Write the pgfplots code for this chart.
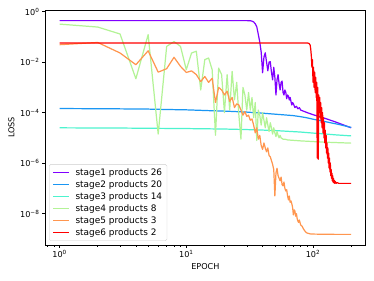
\documentclass[border=0pt]{standalone}
\usepackage{fontspec}
\setmainfont{DejaVu Sans}
\usepackage{pgfplots}
\pgfplotsset{compat=1.18}
\definecolor{cA}{RGB}{128,0,255}
\definecolor{cB}{RGB}{26,150,243}
\definecolor{cC}{RGB}{77,243,206}
\definecolor{cD}{RGB}{179,243,150}
\definecolor{cE}{RGB}{255,150,79}
\definecolor{cF}{RGB}{255,0,0}
\pgfplotsset{mpllegend/.style={legend image code/.code={\draw[##1,line width=1.5pt] (0pt,0pt) -- (20pt,0pt);}}}
\begin{document}
\begin{tikzpicture}
\begin{axis}[
  at={(0,0)}, anchor=south west,
  scale only axis, width=395pt, height=289.5pt,
  xmode=log, ymode=log,
  xmin=0.767, xmax=260.6, ymin=5.7e-10, ymax=1.16,
  axis line style={line width=0.8pt, black},
  tick align=outside, tick pos=left,
  major tick length=3.5pt, minor tick length=2pt,
  every tick/.style={black, line width=0.8pt},
  minor tick style={line width=0.6pt},
  xtick={1,10,100},
  xticklabels={10\textsuperscript{0},10\textsuperscript{1},10\textsuperscript{2}},
  minor xtick={0.8,0.9,2,3,4,5,6,7,8,9,20,30,40,50,60,70,80,90,200},
  ytick={1e-8,1e-6,1e-4,1e-2,1},
  yticklabels={10\textsuperscript{−8},10\textsuperscript{−6},10\textsuperscript{−4},10\textsuperscript{−2},10\textsuperscript{0}},
  minor ytick={},
  ticklabel style={font=\fontsize{10}{12}\selectfont},
  xlabel={EPOCH}, ylabel={LOSS},
  label style={font=\fontsize{10}{12}\selectfont},
  legend style={at={(0,0)}, anchor=south west, xshift=5pt, yshift=5pt,
    draw=black!20, rounded corners=2pt, fill=white, fill opacity=0.8, text opacity=1,
    font=\fontsize{11}{12}\selectfont, row sep=1pt, inner xsep=4pt, inner ysep=3pt,
    /tikz/every odd column/.append style={column sep=5pt}},
  legend cell align=left,
]
\addplot[cA, line width=1.5pt, line join=round, mpllegend] coordinates {(1,0.44)(10,0.44)(30,0.44)(32,0.435)(33,0.42)(34,0.39)(35,0.33)(36,0.25)(37,0.126)(38,0.063)(39,0.025)(40,3.8e-3)(41,1.58e-2)(42,2.34e-2)(43,1.0e-2)(44,4.5e-3)(45,1.0e-2)(46,1.05e-2)(47,4.0e-3)(48,2.0e-3)(49,6.3e-3)(50,2.5e-3)(51,5.0e-4)(52,2.0e-3)(53,3.2e-3)(54,1.41e-3)(55,7.9e-4)(56,1.58e-3)(57,1.78e-3)(58,6.3e-4)(59,5.0e-4)(60,7.9e-4)(61,6.3e-4)(62,3.55e-4)(63,5.0e-4)(64,4.5e-4)(65,3.16e-4)(66,4.0e-4)(67,2.8e-4)(68,2.0e-4)(69,2.5e-4)(70,2.24e-4)(72,1.58e-4)(74,1.78e-4)(76,1.41e-4)(78,1.58e-4)(80,1.26e-4)(85,1.12e-4)(90,1.0e-4)(100,8.3e-5)(120,6.3e-5)(150,4.3e-5)(200,2.5e-5)};
\addlegendentry{stage1 products 26}
\addplot[cB, line width=1.5pt, line join=round, mpllegend] coordinates {(1,1.45e-4)(2,1.43e-4)(3,1.41e-4)(5,1.38e-4)(7,1.33e-4)(10,1.29e-4)(15,1.20e-4)(20,1.15e-4)(30,1.05e-4)(40,9.5e-5)(50,8.7e-5)(60,8.1e-5)(70,7.6e-5)(80,6.9e-5)(90,6.2e-5)(100,5.5e-5)(120,4.6e-5)(140,3.9e-5)(160,3.4e-5)(180,2.95e-5)(200,2.6e-5)};
\addlegendentry{stage2 products 20}
\addplot[cC, line width=1.5pt, line join=round, mpllegend] coordinates {(1,2.5e-5)(3,2.45e-5)(10,2.34e-5)(20,2.24e-5)(35,2.09e-5)(50,1.95e-5)(80,1.70e-5)(100,1.55e-5)(120,1.45e-5)(150,1.32e-5)(200,1.20e-5)};
\addlegendentry{stage3 products 14}
\addplot[cD, line width=1.5pt, line join=round, mpllegend] coordinates {(1,0.32)(2,0.245)(3,0.130)(4,2.2e-3)(5,0.123)(6,1.41e-5)(7,4.2e-2)(8,6.5e-2)(9,4.2e-2)(10,5.0e-3)(11,2.3e-2)(12,2.7e-2)(13,7.9e-4)(14,1.26e-2)(15,1.45e-2)(16,5.0e-3)(17,1.26e-5)(18,5.8e-3)(19,3.2e-3)(20,1.0e-4)(21,3.2e-3)(22,1.26e-4)(23,4.3e-3)(24,3.2e-4)(25,1.58e-3)(26,7.9e-5)(27,8.9e-6)(28,1.0e-3)(29,5.0e-4)(30,1.26e-4)(31,6.3e-4)(32,1.26e-4)(33,4.0e-4)(34,6.3e-5)(35,2.5e-4)(36,7.9e-6)(37,1.26e-4)(38,7.9e-5)(39,3.2e-5)(40,1.0e-4)(41,5.0e-5)(42,2.5e-5)(43,6.3e-5)(44,3.2e-5)(45,1.78e-5)(46,4.0e-5)(47,2.5e-5)(48,1.41e-5)(49,2.5e-5)(50,1.58e-5)(51,1.12e-5)(52,1.78e-5)(53,1.26e-5)(54,1.0e-5)(55,1.26e-5)(56,1.0e-5)(58,8.9e-6)(60,8.9e-6)(63,8.3e-6)(80,7.6e-6)(120,6.8e-6)(200,6.2e-6)};
\addlegendentry{stage4 products 8}
\addplot[cE, line width=1.5pt, line join=round, mpllegend] coordinates {(1,4.9e-2)(2,6.0e-2)(3,2.3e-2)(4,7.9e-3)(5,2.8e-2)(6,4.0e-3)(7,5.5e-3)(8,1.55e-2)(9,6.8e-3)(10,3.9e-3)(11,4.5e-3)(12,3.2e-3)(13,1.7e-3)(14,2.7e-3)(15,1.58e-3)(16,2.3e-3)(17,2.5e-4)(18,1.0e-3)(19,7.9e-4)(20,5.0e-4)(21,7.1e-4)(22,2.8e-4)(23,4.0e-4)(24,1.58e-4)(25,2.24e-4)(26,2.0e-4)(27,1.26e-4)(28,7.9e-5)(29,1.12e-4)(30,7.1e-5)(31,7.9e-5)(32,5.0e-5)(33,5.6e-5)(34,3.2e-5)(35,1.58e-5)(36,2.5e-5)(37,8.9e-6)(38,1.26e-5)(39,5.0e-6)(40,3.5e-6)(41,6.3e-6)(42,4.0e-6)(43,2.8e-6)(44,4.0e-6)(45,2.0e-6)(46,1.78e-6)(47,1.26e-6)(48,8.9e-7)(49,5.6e-7)(50,5.0e-8)(51,4.0e-7)(52,6.3e-7)(53,3.2e-7)(54,2.5e-7)(55,2.0e-7)(56,2.8e-7)(57,1.41e-7)(58,1.26e-7)(59,1.78e-7)(60,1.0e-7)(61,7.9e-8)(62,8.9e-8)(63,5.0e-8)(64,3.5e-8)(65,5.0e-8)(66,2.8e-8)(67,3.2e-8)(68,2.5e-8)(69,1.78e-8)(70,8.9e-9)(71,1.41e-8)(72,1.26e-8)(73,7.9e-9)(74,1.0e-8)(75,6.3e-9)(76,5.0e-9)(77,4.5e-9)(78,5.6e-9)(80,3.5e-9)(82,3.2e-9)(84,2.5e-9)(86,2.1e-9)(88,1.82e-9)(90,1.70e-9)(95,1.58e-9)(100,1.55e-9)(150,1.51e-9)(200,1.51e-9)};
\addlegendentry{stage5 products 3}
\addplot[cF, line width=1.5pt, line join=round, mpllegend] coordinates {(1,5.75e-2)(10,5.75e-2)(90,5.75e-2)(93,5.5e-2)(95,4.7e-2)(96,3.2e-2)(97,1.78e-2)(98,6.3e-3)(99,1.26e-2)(100,1.58e-3)(101,6.3e-3)(102,1.0e-3)(103,4.0e-3)(104,6.3e-4)(105,2.5e-3)(106,4.0e-4)(107,1.58e-3)(108,1.58e-6)(109,1.0e-3)(110,1.41e-6)(111,5.0e-4)(112,1.0e-4)(113,4.0e-4)(114,6.3e-5)(115,2.5e-4)(116,4.0e-5)(117,1.58e-4)(118,2.5e-5)(119,1.0e-4)(120,1.58e-5)(121,6.3e-5)(122,1.0e-5)(123,4.0e-5)(124,6.3e-6)(125,2.0e-5)(126,4.0e-6)(127,1.26e-5)(128,2.5e-6)(129,6.3e-6)(130,1.58e-6)(131,4.0e-6)(132,1.0e-6)(133,2.5e-6)(134,6.3e-7)(135,1.58e-6)(136,4.5e-7)(137,1.0e-6)(138,3.2e-7)(139,5.6e-7)(140,2.5e-7)(141,4.0e-7)(142,2.0e-7)(143,3.2e-7)(144,1.78e-7)(145,2.5e-7)(146,1.66e-7)(147,2.1e-7)(148,1.58e-7)(150,1.9e-7)(152,1.58e-7)(155,1.7e-7)(160,1.58e-7)(200,1.58e-7)};
\addlegendentry{stage6 products 2}
\end{axis}
\pgfresetboundingbox
\path[use as bounding box] (-55.4pt,-43.1pt) rectangle (405.2pt,301.8pt);
\end{tikzpicture}
\end{document}
